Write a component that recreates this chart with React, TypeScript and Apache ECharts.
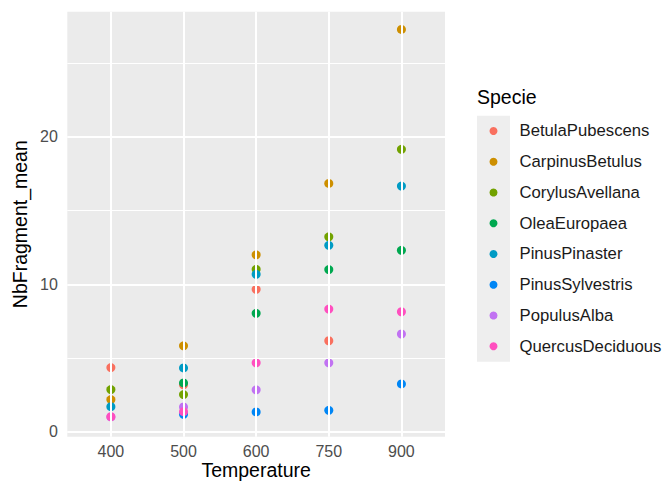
import React, { useEffect, useRef } from "react";
import * as echarts from "echarts";

const temperatures = ["400", "500", "600", "750", "900"];
const species = [
  "BetulaPubescens",
  "CarpinusBetulus",
  "CorylusAvellana",
  "OleaEuropaea",
  "PinusPinaster",
  "PinusSylvestris",
  "PopulusAlba",
  "QuercusDeciduous",
];
const speciesColors = ["#F9705F", "#CD8F00", "#72A200", "#00A850", "#009BC4", "#0086F5", "#C172F2", "#FF4FBF"];

const betulaPubescens = [4.35, 3.18, 9.66, 6.17, null];
const carpinusBetulus = [2.18, 5.83, 12.0, 16.85, 27.3];
const corylusAvellana = [2.86, 2.52, 11.02, 13.22, 19.16];
const oleaEuropaea = [null, 3.31, 8.03, 11.0, 12.31];
const pinusPinaster = [1.7, 4.33, 10.68, 12.65, 16.67];
const pinusSylvestris = [null, 1.18, 1.34, 1.45, 3.24];
const populusAlba = [1.0, 1.68, 2.84, 4.67, 6.63];
const quercusDeciduous = [1.02, 1.36, 4.67, 8.32, 8.14];

const seriesValues = [
  betulaPubescens,
  carpinusBetulus,
  corylusAvellana,
  oleaEuropaea,
  pinusPinaster,
  pinusSylvestris,
  populusAlba,
  quercusDeciduous,
];

const yMajorTicks = [0, 10, 20];
const yMinorGrid = [5, 15, 25];
const xTickIndex = [0, 1, 2, 3, 4];

const FONT = "'Liberation Sans', Arial, Helvetica, sans-serif";

export default function App() {
  const ref = useRef<HTMLDivElement>(null);
  useEffect(() => {
    if (!ref.current) return;
    const chart = echarts.init(ref.current, null, { renderer: "svg" });
    const gridWhite = "#FFFFFF";
    const scatterSeries = species.map((name, si) => ({
      name,
      type: "scatter",
      symbol: "circle",
      symbolSize: 9,
      z: 3,
      itemStyle: { color: speciesColors[si], opacity: 1 },
      data: seriesValues[si]
        .map((v, i) => (v == null ? null : [i, v]))
        .filter((d) => d != null),
    }));
    const option: any = {
      animation: false,
      backgroundColor: "#FFFFFF",
      textStyle: { fontFamily: FONT },
      grid: {
        left: 67.3,
        top: 11.7,
        width: 377.7,
        height: 425,
        show: true,
        backgroundColor: "#EBEBEB",
        borderWidth: 0,
        containLabel: false,
        outerBoundsMode: "none",
      },
      xAxis: {
        type: "value",
        min: -0.6,
        max: 4.6,
        name: "Temperature",
        nameLocation: "middle",
        nameGap: 23,
        nameMoveOverlap: false,
        nameTextStyle: { fontSize: 19.5, color: "#000000", fontFamily: FONT },
        axisLine: { show: false },
        splitLine: { show: false },
        axisTick: {
          show: true,
          customValues: xTickIndex,
          length: 4,
          lineStyle: { color: "#333333", width: 1.5 },
        },
        axisLabel: {
          customValues: xTickIndex,
          formatter: (v: number) => temperatures[Math.round(v)] ?? "",
          fontSize: 16,
          color: "#4D4D4D",
          margin: 7,
          fontFamily: FONT,
        },
      },
      yAxis: {
        type: "value",
        min: -0.34,
        max: 28.5,
        name: "NbFragment_mean",
        nameLocation: "middle",
        nameGap: 37,
        nameMoveOverlap: false,
        nameTextStyle: { fontSize: 19.5, color: "#000000", fontFamily: FONT },
        axisLine: { show: false },
        splitLine: { show: false },
        axisTick: {
          show: true,
          customValues: yMajorTicks,
          length: 4,
          lineStyle: { color: "#333333", width: 1.5 },
        },
        axisLabel: {
          customValues: yMajorTicks,
          fontSize: 16,
          color: "#4D4D4D",
          margin: 9.5,
          fontFamily: FONT,
        },
      },
      legend: {
        data: species,
        orient: "vertical",
        left: 489.5,
        top: 115.6,
        padding: 0,
        itemGap: 0,
        itemWidth: 42,
        itemHeight: 8,
        icon: "circle",
        selectedMode: false,
        textStyle: {
          fontSize: 16.7,
          color: "#1A1A1A",
          lineHeight: 30.75,
          fontFamily: FONT,
        },
      },
      graphic: [
        {
          type: "rect",
          left: 477,
          top: 115.7,
          z: -1,
          shape: { width: 33, height: 246 },
          style: { fill: "#EEEEEE" },
        },
        {
          type: "text",
          left: 477,
          top: 87,
          style: { text: "Specie", fontSize: 19.5, fill: "#000000", fontFamily: FONT },
        },
      ],
      series: [
        {
          name: "__grid",
          type: "scatter",
          data: [],
          z: 1,
          silent: true,
          markLine: {
            silent: true,
            symbol: "none",
            label: { show: false },
            animation: false,
            data: [
              ...yMinorGrid.map((v) => ({ yAxis: v, lineStyle: { color: gridWhite, width: 1.2, type: "solid" } })),
              ...yMajorTicks.map((v) => ({ yAxis: v, lineStyle: { color: gridWhite, width: 2, type: "solid" } })),
              ...xTickIndex.map((v) => ({ xAxis: v, lineStyle: { color: gridWhite, width: 2, type: "solid" } })),
            ],
          },
        },
        ...scatterSeries,
      ],
    };
    chart.setOption(option);
    return () => chart.dispose();
  }, []);
  return (
    <div
      ref={ref}
      style={{ position: "fixed", left: 0, top: 0, width: 666, height: 481 }}
    />
  );
}
